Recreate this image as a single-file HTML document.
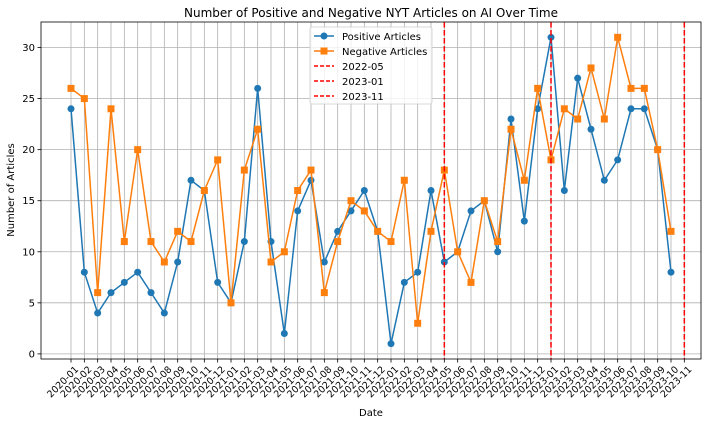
<!DOCTYPE html>
<html><head><meta charset="utf-8"><style>
html,body{margin:0;padding:0;background:#fff;}
svg{display:block;font-family:"DejaVu Sans","Liberation Sans",sans-serif;}
</style></head><body>
<svg id="chart" width="710" height="424" viewBox="0 0 710 424">
<text x="371" y="17" font-size="12" text-anchor="middle" fill="#000">Number of Positive and Negative NYT Articles on AI Over Time</text>
<g id="grid"></g>
<g id="axes"></g>
<g id="series"></g>
<rect x="41" y="22" width="660" height="337" fill="none" stroke="#000" stroke-width="0.8"/>
<text x="371" y="416" font-size="10" text-anchor="middle">Date</text>
<text x="0" y="0" font-size="10" text-anchor="middle" transform="translate(14,190) rotate(-90)">Number of Articles</text>
<g>
<rect x="310" y="27" width="122" height="77" fill="#fff" fill-opacity="0.8" stroke="#ccc" stroke-width="0.8" rx="2"/>
<g><line x1="314" y1="36" x2="334" y2="36" stroke="#1f77b4" stroke-width="1.5"/><circle cx="324" cy="36" r="3.5" fill="#1f77b4"/><text x="342" y="40" font-size="10">Positive Articles</text></g>
<g><line x1="314" y1="51" x2="334" y2="51" stroke="#ff7f0e" stroke-width="1.5"/><rect x="320.5" y="47.5" width="7" height="7" fill="#ff7f0e"/><text x="342" y="55" font-size="10">Negative Articles</text></g>
<g><line x1="314" y1="66" x2="334" y2="66" stroke="#ff0000" stroke-width="1.5" stroke-dasharray="4,2"/><text x="342" y="70" font-size="10">2022-05</text></g>
<g><line x1="314" y1="81" x2="334" y2="81" stroke="#ff0000" stroke-width="1.5" stroke-dasharray="4,2"/><text x="342" y="85" font-size="10">2023-01</text></g>
<g><line x1="314" y1="96" x2="334" y2="96" stroke="#ff0000" stroke-width="1.5" stroke-dasharray="4,2"/><text x="342" y="100" font-size="10">2023-11</text></g>
</g>
</svg>
<script>
const categories = [];
for (let y = 2020; y <= 2023; y++) for (let m = 1; m <= 12; m++) { if (y === 2023 && m > 11) break; categories.push(y + '-' + String(m).padStart(2, '0')); }
const positive = [24,8,4,6,7,8,6,4,9,17,16,7, 5,11,26,11,2,14,17,9,12,14,16,12, 1,7,8,16,9,10,14,15,10,23,13,24, 31,16,27,22,17,19,24,24,20,8];
const negative = [26,25,6,24,11,20,11,9,12,11,16,19, 5,18,22,9,10,16,18,6,11,15,14,12, 11,17,3,12,18,10,7,15,11,22,17,26, 19,24,23,28,23,31,26,26,20,12];
const eventLines = ['2022-05','2023-01','2023-11'];
const yTicks = [0,5,10,15,20,25,30];

const NS = 'http://www.w3.org/2000/svg';
const L = 41, R = 701, T = 22, B = 359;
const nData = positive.length - 1;
const xMin = -0.05 * nData, xMax = nData + 0.05 * nData;
const yMin = -0.5, yMax = 32.5;
const xs = i => L + (i - xMin) / (xMax - xMin) * (R - L);
const ys = v => B - (v - yMin) / (yMax - yMin) * (B - T);
function mk(tag, attrs, parent) { const e = document.createElementNS(NS, tag); for (const k in attrs) e.setAttribute(k, attrs[k]); parent.appendChild(e); return e; }
const grid = document.getElementById('grid'), axes = document.getElementById('axes'), series = document.getElementById('series');

categories.forEach((c, i) => {
  const x = xs(i);
  const g = mk('line', {x1: x, x2: x, y1: T, y2: B, stroke: '#b0b0b0', 'stroke-width': 0.8}, grid);
  
  
  mk('line', {x1: x, x2: x, y1: B, y2: B + 3.5, stroke: '#000', 'stroke-width': 0.8}, axes);
  const t = mk('text', {x: 0, y: 0, 'font-size': 9.5, 'text-anchor': 'end', transform: `translate(${x + 8},${B + 11}) rotate(-45)`}, axes);
  t.textContent = c;
  
  
});
yTicks.forEach(v => {
  const y = ys(v);
  const g = mk('line', {x1: L, x2: R, y1: y, y2: y, stroke: '#b0b0b0', 'stroke-width': 0.8}, grid);
  
  
  mk('line', {x1: L - 3.5, x2: L, y1: y, y2: y, stroke: '#000', 'stroke-width': 0.8}, axes);
  const t = mk('text', {x: L - 6, y: y + 3.5, 'font-size': 10, 'text-anchor': 'end'}, axes);
  t.textContent = v;
  
  
});

function drawSeries(vals, color, marker, name) {
  const pl = mk('polyline', {points: vals.map((v, i) => xs(i) + ',' + ys(v)).join(' '), fill: 'none', stroke: color, 'stroke-width': 1.5}, series);
  
  
  vals.forEach((v, i) => {
    let m;
    if (marker === 'circle') m = mk('circle', {cx: xs(i), cy: ys(v), r: 3.5, fill: color}, series);
    else m = mk('rect', {x: xs(i) - 3.5, y: ys(v) - 3.5, width: 7, height: 7, fill: color}, series);
    
    
  });
}
drawSeries(positive, '#1f77b4', 'circle', 'positive');
drawSeries(negative, '#ff7f0e', 'square', 'negative');

eventLines.forEach(d => {
  const i = categories.indexOf(d);
  const x = xs(i);
  const l = mk('line', {x1: x, x2: x, y1: T, y2: B, stroke: '#ff0000', 'stroke-width': 1.5, 'stroke-dasharray': '5.5,2.5'}, series);
  
  
});
</script>
</body></html>
